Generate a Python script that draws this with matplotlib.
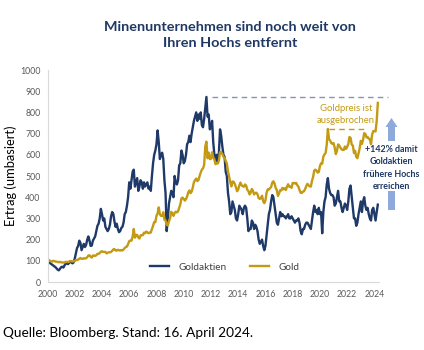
import numpy as np
import matplotlib
matplotlib.use("Agg")
import matplotlib.pyplot as plt
from matplotlib.patches import Polygon, Rectangle

plt.rcParams['font.family'] = ['Lato', 'DejaVu Sans']

# monthly values, Jan 2000 .. Apr 2024 (rebased, 2000 = 100)
gold = [
    100, 105, 100, 98, 96, 100, 99, 96, 96, 95, 93, 95,            # 2000
    93, 92, 92, 92, 95, 95, 94, 96, 99, 98, 97, 97,                # 2001
    99, 104, 103, 106, 110, 113, 110, 109, 112, 111, 112, 117,     # 2002
    125, 126, 119, 115, 125, 125, 123, 126, 133, 133, 136, 143,    # 2003
    145, 142, 142, 142, 135, 138, 140, 140, 142, 147, 154, 155,    # 2004
    149, 148, 152, 150, 148, 151, 149, 153, 160, 165, 167, 179,    # 2005
    193, 195, 195, 214, 250, 209, 222, 222, 210, 205, 220, 221,    # 2006
    221, 233, 230, 238, 234, 230, 233, 233, 250, 265, 283, 282,    # 2007
    312, 324, 352, 319, 312, 312, 329, 294, 291, 270, 267, 286,    # 2008
    301, 331, 324, 312, 326, 332, 328, 333, 349, 366, 395, 398,    # 2009
    392, 384, 391, 403, 423, 432, 419, 426, 446, 471, 481, 488,    # 2010
    476, 481, 500, 517, 530, 536, 552, 640, 662, 584, 610, 580,    # 2011
    581, 612, 587, 579, 556, 560, 559, 572, 612, 613, 604, 591,    # 2012
    586, 571, 559, 522, 496, 471, 451, 474, 473, 462, 447, 428,    # 2013
    436, 456, 469, 456, 452, 449, 460, 455, 435, 429, 413, 421,    # 2014
    439, 431, 413, 420, 421, 414, 396, 392, 395, 407, 381, 372,    # 2015
    385, 421, 437, 436, 442, 448, 469, 475, 465, 444, 434, 406,    # 2016
    418, 433, 432, 444, 437, 442, 434, 450, 461, 449, 450, 444,    # 2017
    467, 467, 465, 468, 457, 450, 434, 421, 420, 426, 428, 439,    # 2018
    453, 463, 456, 451, 450, 477, 496, 526, 530, 525, 516, 519,    # 2019
    547, 560, 558, 591, 602, 608, 648, 722, 674, 667, 655, 652,    # 2020
    655, 634, 603, 618, 649, 644, 634, 626, 623, 623, 639, 628,    # 2021
    638, 651, 684, 680, 648, 644, 608, 619, 590, 584, 606, 631,    # 2022
    666, 651, 671, 702, 699, 682, 684, 677, 672, 650, 696, 712,    # 2023
    712, 710, 758, 845,                                            # 2024
]

goldaktien = [
    100, 96, 90, 86, 82, 78, 74, 70, 64, 58, 55, 62,               # 2000
    70, 72, 68, 78, 88, 90, 84, 90, 98, 92, 88, 92,                # 2001
    110, 135, 160, 170, 195, 185, 150, 165, 180, 165, 175, 200,    # 2002
    215, 195, 170, 172, 195, 205, 215, 240, 265, 275, 300, 345,    # 2003
    320, 290, 300, 260, 250, 240, 250, 270, 310, 330, 320, 285,    # 2004
    260, 275, 250, 235, 240, 255, 260, 280, 320, 330, 360, 400,    # 2005
    470, 440, 480, 520, 530, 450, 470, 490, 430, 450, 480, 470,    # 2006
    440, 470, 450, 460, 470, 440, 450, 430, 500, 560, 600, 620,    # 2007
    650, 715, 660, 580, 600, 610, 580, 480, 420, 240, 300, 370,    # 2008
    400, 430, 420, 400, 500, 470, 460, 480, 550, 560, 620, 600,    # 2009
    560, 570, 600, 650, 660, 690, 660, 700, 730, 760, 780, 800,    # 2010
    760, 790, 770, 800, 740, 730, 770, 820, 873, 780, 790, 720,    # 2011
    730, 760, 660, 600, 570, 600, 570, 610, 720, 690, 640, 600,    # 2012
    590, 520, 500, 420, 380, 320, 330, 380, 360, 340, 300, 290,    # 2013
    320, 360, 350, 340, 320, 350, 360, 350, 300, 240, 250, 250,    # 2014
    290, 280, 250, 270, 260, 240, 200, 180, 190, 200, 170, 150,    # 2015
    170, 220, 270, 320, 340, 380, 410, 400, 360, 320, 280, 270,    # 2016
    300, 330, 310, 320, 310, 310, 300, 310, 320, 300, 300, 310,    # 2017
    300, 290, 280, 290, 290, 300, 280, 240, 225, 250, 250, 270,    # 2018
    280, 280, 270, 260, 250, 290, 330, 360, 330, 340, 320, 350,    # 2019
    320, 330, 230, 330, 380, 400, 460, 490, 440, 420, 410, 410,    # 2020
    400, 360, 370, 400, 430, 380, 380, 350, 330, 350, 370, 360,    # 2021
    340, 380, 440, 455, 400, 350, 300, 300, 265, 280, 320, 350,    # 2022
    380, 330, 380, 400, 360, 340, 350, 320, 300, 290, 340, 350,    # 2023
    320, 290, 330, 365,                                            # 2024
]

year_ticks = list(range(2000, 2025, 2))
y_ticks = list(range(0, 1001, 100))

BLUE = '#1F3A68'
GOLD = '#C49A13'
ARROW = '#8EA9DB'

dates = 2000 + np.arange(len(gold)) / 12

fig = plt.figure(figsize=(4.24, 3.5), dpi=100)
ax = fig.add_axes([47.5 / 424, 68 / 350, 331 / 424, 212 / 350])

ax.plot(dates, goldaktien, color=BLUE, lw=1.7, label='Goldaktien')
ax.plot(dates, gold, color=GOLD, lw=1.7, label='Gold')

ax.set_xlim(2000, 2024.3)
ax.set_ylim(0, 1000)
ax.set_xticks(year_ticks)
ax.set_xticklabels([str(y) for y in year_ticks])
ax.set_yticks(y_ticks)
ax.tick_params(length=0, labelsize=6.3, labelcolor='#595959')
ax.tick_params(axis='x', pad=6)
ax.tick_params(axis='y', pad=5)
for s in ['top', 'right']:
    ax.spines[s].set_visible(False)
for s in ['left', 'bottom']:
    ax.spines[s].set_color('#D9D9D9')
    ax.spines[s].set_linewidth(0.8)

ax.set_ylabel('Ertrag (umbasiert)', fontsize=9.3, color='black', labelpad=2)

# dashed line at the old miners high
peak = max(goldaktien)
ax.plot([2012.05, 2025.0], [peak, peak], color='#8497B0', lw=1.0,
        dashes=(4, 3), clip_on=False)
# dashed line at gold 2020 high
gold_2020 = max(gold[:-4])
ax.plot([2020.7, 2023.4], [gold_2020, gold_2020], color=GOLD, lw=1.0,
        dashes=(4, 3))

ax.text(2021.9, 790, 'Goldpreis ist\nausgebrochen', color=GOLD,
        fontsize=6.8, ha='center', va='center', linespacing=1.35)

leg = ax.legend(loc='center', bbox_to_anchor=(0.535, 0.07), ncol=2,
                frameon=False, fontsize=7.2, handlelength=1.9,
                columnspacing=2.4, handletextpad=0.9)
for t in leg.get_texts():
    t.set_color('#404040')

# title
fig.text(0.543, 0.90, 'Minenunternehmen sind noch weit von\nIhren Hochs entfernt',
         ha='center', va='center', fontsize=10.4, fontweight='bold',
         color='#1F3864', linespacing=1.35)

# arrow and note on the right
def fx(px):
    return px / 424

def fy(py):
    return 1 - py / 350

arrow = Polygon([(fx(388), fy(141)), (fx(388), fy(127)), (fx(385.5), fy(127)),
                 (fx(391.5), fy(118)), (fx(397.5), fy(127)), (fx(395), fy(127)),
                 (fx(395), fy(141))], closed=True, transform=fig.transFigure,
                facecolor=ARROW, edgecolor='none')
fig.patches.append(arrow)
fig.patches.append(Rectangle((fx(388), fy(210)), fx(7), 19 / 350,
                             transform=fig.transFigure, facecolor=ARROW,
                             edgecolor='none'))

fig.text(fx(391), fy(168), '+142% damit\nGoldaktien\nfrühere Hochs\nerreichen',
         ha='center', va='center', fontsize=6.4, fontweight='bold',
         color='#1F3864', linespacing=1.45)

fig.text(fx(3), fy(333), 'Quelle: Bloomberg. Stand: 16. April 2024.',
         ha='left', va='center', fontsize=9.8, color='black')

fig.savefig('out.png', dpi=100)
